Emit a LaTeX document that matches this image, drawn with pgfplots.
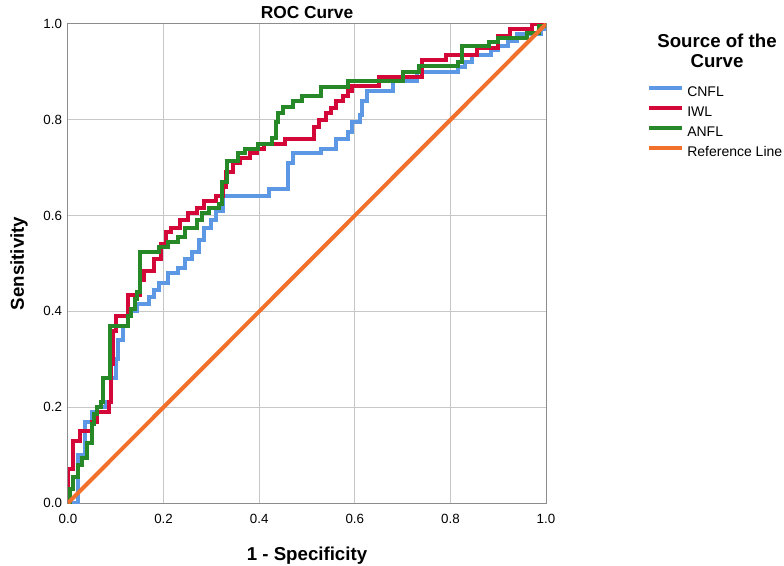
\documentclass[border=0pt]{standalone}
\usepackage{pgfplots}
\pgfplotsset{compat=1.18}
\usepackage{fontspec}
\setmainfont{Liberation Sans}
\definecolor{cnfl}{RGB}{92,152,228}
\definecolor{iwl}{RGB}{212,8,56}
\definecolor{anfl}{RGB}{38,136,38}
\definecolor{refl}{RGB}{240,112,44}
\begin{document}
\begin{tikzpicture}
\useasboundingbox (-51pt,-46.5pt) rectangle (537pt,377.25pt);
\begin{axis}[
  at={(0,0)}, anchor=south west,
  scale only axis, width=358.5pt, height=359.25pt,
  xmin=0, xmax=1, ymin=0, ymax=1,
  xtick={0,0.2,0.4,0.6,0.8,1}, ytick={0,0.2,0.4,0.6,0.8,1},
  grid=major, major grid style={draw=black!22, line width=0.75pt},
  axis line style={draw=black!45, line width=0.75pt},
  major tick length=0pt,
  tick label style={font=\fontsize{10}{12}\selectfont},
  /pgf/number format/.cd, fixed, fixed zerofill, precision=1, assume math mode=true, /pgfplots/.cd,
  xticklabel style={anchor=base, yshift=-15pt},
  yticklabel style={anchor=east, xshift=-1pt},
  title={ROC Curve},
  title style={at={(axis description cs:0.5,1)}, anchor=base, yshift=-2pt, font=\fontsize{13}{16}\selectfont\bfseries},
  xlabel={1 - Specificity},
  xlabel style={at={([yshift=-42.75pt]axis description cs:0.5,0)}, anchor=base, font=\fontsize{14}{16}\selectfont\bfseries},
  ylabel={Sensitivity},
  ylabel style={at={([xshift=-33pt]axis description cs:0,0.5)}, anchor=base, font=\fontsize{14}{16}\selectfont\bfseries},
  legend cell align=left,
  legend image code/.code={\draw[#1] (0pt,0pt) -- (24.75pt,0pt);},
  legend style={at={(1.2113,0.8831)}, anchor=north west, draw=none, fill=none,
    inner xsep=0pt, inner ysep=0pt, row sep=3pt, column sep=2.25pt,
    font=\fontsize{10.5}{13}\selectfont,
    nodes={inner sep=0pt, text height=12pt, text depth=0pt}},
]
\addplot[cnfl, line width=3pt, const plot] coordinates {
(0,0) (0.02,0.10) (0.035,0.17) (0.05,0.19) (0.06,0.20) (0.08,0.21) (0.09,0.26)
(0.10,0.30) (0.105,0.34) (0.115,0.37) (0.125,0.40) (0.145,0.415) (0.17,0.43)
(0.18,0.445) (0.19,0.46) (0.21,0.48) (0.23,0.49) (0.245,0.51) (0.26,0.525)
(0.275,0.55) (0.285,0.575) (0.30,0.59) (0.31,0.61) (0.325,0.64) (0.42,0.655)
(0.46,0.71) (0.47,0.73) (0.53,0.74) (0.56,0.76) (0.585,0.775) (0.595,0.795)
(0.61,0.81) (0.615,0.84) (0.625,0.86) (0.68,0.88) (0.73,0.90) (0.815,0.91)
(0.83,0.92) (0.845,0.935) (0.885,0.945) (0.90,0.955) (0.92,0.965) (0.94,0.98)
(0.99,0.99) (1.0,1.0)};
\addlegendentry{CNFL}
\addplot[iwl, line width=3pt, const plot] coordinates {
(0,0) (0,0.07) (0.01,0.13) (0.025,0.15) (0.05,0.17) (0.06,0.19) (0.085,0.21)
(0.09,0.29) (0.095,0.36) (0.10,0.39) (0.125,0.435) (0.15,0.465) (0.16,0.485)
(0.18,0.51) (0.195,0.54) (0.205,0.565) (0.215,0.575) (0.235,0.59) (0.25,0.605)
(0.27,0.615) (0.285,0.63) (0.31,0.64) (0.325,0.66) (0.33,0.69) (0.345,0.71)
(0.36,0.72) (0.38,0.73) (0.395,0.74) (0.41,0.75) (0.455,0.76) (0.515,0.785)
(0.525,0.80) (0.54,0.815) (0.55,0.825) (0.56,0.84) (0.575,0.85) (0.585,0.86)
(0.595,0.87) (0.65,0.89) (0.74,0.925) (0.79,0.935) (0.855,0.95) (0.90,0.975)
(0.925,0.99) (0.97,1.0) (1.0,1.0)};
\addlegendentry{IWL}
\addplot[anfl, line width=3pt, const plot] coordinates {
(0,0) (0.005,0.03) (0.01,0.055) (0.02,0.08) (0.03,0.095) (0.04,0.125) (0.05,0.165)
(0.055,0.185) (0.06,0.20) (0.07,0.21) (0.073,0.26) (0.087,0.37) (0.125,0.39)
(0.132,0.405) (0.14,0.425) (0.145,0.44) (0.15,0.525) (0.19,0.535) (0.21,0.545)
(0.23,0.555) (0.245,0.575) (0.27,0.59) (0.28,0.605) (0.295,0.615) (0.315,0.625)
(0.322,0.67) (0.333,0.715) (0.355,0.73) (0.37,0.74) (0.397,0.75) (0.427,0.762)
(0.435,0.795) (0.44,0.815) (0.45,0.827) (0.47,0.84) (0.49,0.85) (0.53,0.868)
(0.585,0.88) (0.70,0.90) (0.735,0.912) (0.815,0.92) (0.825,0.955) (0.88,0.962)
(0.90,0.97) (0.96,0.982) (0.985,0.995) (1.0,1.0)};
\addlegendentry{ANFL}
\addplot[refl, line width=3pt] coordinates {(0,0) (1,1)};
\addlegendentry{Reference Line}
\end{axis}
\node[anchor=base, font=\fontsize{14}{16}\selectfont\bfseries] at (486.75pt,341.25pt) {Source of the};
\node[anchor=base, font=\fontsize{14}{16}\selectfont\bfseries] at (486.75pt,326.25pt) {Curve};
\end{tikzpicture}
\end{document}
